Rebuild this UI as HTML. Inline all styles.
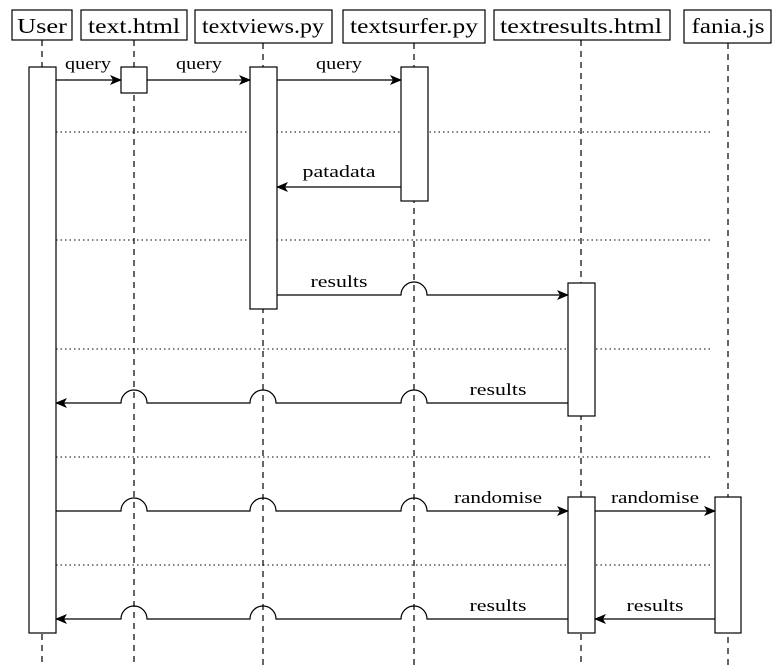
<!DOCTYPE html><html><head><style>body{margin:0;background:#fff}svg{display:block}</style></head><body>
<svg width="780" height="665" viewBox="0 0 780 665" xmlns="http://www.w3.org/2000/svg" font-family="Liberation Serif, serif">
<defs><marker id="a" markerWidth="12" markerHeight="10" refX="11" refY="5" orient="auto" markerUnits="userSpaceOnUse"><path d="M0,0 L12,5 L0,10 L3,5 Z" fill="#000"/></marker></defs>
<g stroke="#000" stroke-width="1.2" stroke-dasharray="6,5">
<line x1="42" y1="40" x2="42" y2="665"/><line x1="134" y1="40" x2="134" y2="665"/><line x1="263" y1="43" x2="263" y2="665"/><line x1="414" y1="43" x2="414" y2="665"/><line x1="581" y1="40" x2="581" y2="665"/><line x1="728" y1="43" x2="728" y2="665"/></g>
<g stroke="#000" stroke-width="1" stroke-dasharray="1.5,3"><line x1="56" y1="132" x2="712" y2="132"/><line x1="56" y1="240" x2="712" y2="240"/><line x1="56" y1="349" x2="712" y2="349"/><line x1="56" y1="457" x2="712" y2="457"/><line x1="56" y1="565" x2="712" y2="565"/></g>
<g fill="#fff" stroke="#000" stroke-width="1.2">
<rect x="12" y="10" width="60" height="30"/><rect x="81" y="10" width="106" height="30"/><rect x="195" y="10" width="137" height="33"/><rect x="343" y="10" width="142" height="33"/><rect x="494" y="10" width="176" height="30"/><rect x="684" y="10" width="87" height="33"/>
<rect x="29" y="67" width="27" height="566"/><rect x="121" y="67" width="26" height="26"/><rect x="250" y="67" width="27" height="242"/><rect x="401" y="67" width="27" height="134"/><rect x="568" y="283" width="27" height="133"/><rect x="568" y="497" width="27" height="136"/><rect x="715" y="497" width="26" height="136"/></g>
<g font-size="21" text-anchor="middle" lengthAdjust="spacingAndGlyphs">
<text x="42" y="33" textLength="50" lengthAdjust="spacingAndGlyphs">User</text>
<text x="134" y="33" textLength="92" lengthAdjust="spacingAndGlyphs">text.html</text>
<text x="263" y="33" textLength="122" lengthAdjust="spacingAndGlyphs">textviews.py</text>
<text x="414" y="33" textLength="128" lengthAdjust="spacingAndGlyphs">textsurfer.py</text>
<text x="581" y="33" textLength="162" lengthAdjust="spacingAndGlyphs">textresults.html</text>
<text x="728" y="33" textLength="73" lengthAdjust="spacingAndGlyphs">fania.js</text></g>
<g stroke="#000" stroke-width="1.2" fill="none" marker-end="url(#a)">
<line x1="56" y1="80" x2="121" y2="80"/><line x1="147" y1="80" x2="250" y2="80"/><line x1="277" y1="80" x2="401" y2="80"/>
<line x1="401" y1="187" x2="277" y2="187"/>
<path d="M277,295 H401 A13,13 0 0 1 427,295 H568"/>
<path d="M568,403 H427 A13,13 0 0 0 401,403 H276 A13,13 0 0 0 250,403 H147 A13,13 0 0 0 121,403 H56"/>
<path d="M56,511 H121 A13,13 0 0 1 147,511 H250 A13,13 0 0 1 276,511 H401 A13,13 0 0 1 427,511 H568"/>
<line x1="595" y1="511" x2="715" y2="511"/>
<path d="M568,619 H427 A13,13 0 0 0 401,619 H276 A13,13 0 0 0 250,619 H147 A13,13 0 0 0 121,619 H56"/>
<line x1="715" y1="619" x2="595" y2="619"/></g>
<g font-size="17" text-anchor="middle">
<text x="88" y="69" textLength="46" lengthAdjust="spacingAndGlyphs">query</text>
<text x="199" y="69" textLength="46" lengthAdjust="spacingAndGlyphs">query</text>
<text x="339" y="69" textLength="46" lengthAdjust="spacingAndGlyphs">query</text>
<text x="339" y="177" textLength="73" lengthAdjust="spacingAndGlyphs">patadata</text>
<text x="339" y="287" textLength="57" lengthAdjust="spacingAndGlyphs">results</text>
<text x="498" y="395" textLength="57" lengthAdjust="spacingAndGlyphs">results</text>
<text x="498" y="503" textLength="88" lengthAdjust="spacingAndGlyphs">randomise</text>
<text x="655" y="503" textLength="88" lengthAdjust="spacingAndGlyphs">randomise</text>
<text x="498" y="611" textLength="57" lengthAdjust="spacingAndGlyphs">results</text>
<text x="655" y="611" textLength="57" lengthAdjust="spacingAndGlyphs">results</text></g>
</svg></body></html>
